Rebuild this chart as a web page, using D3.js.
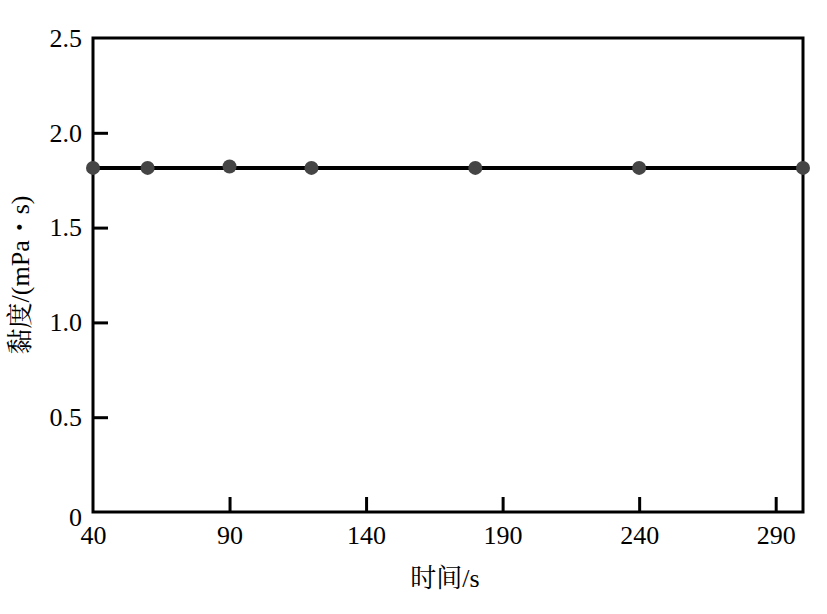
<!DOCTYPE html>
<html>
<head>
<meta charset="utf-8">
<script src="https://cdn.jsdelivr.net/npm/d3@7"></script>
<style>
html,body{margin:0;padding:0;background:#fff;}
svg{display:block;}
</style>
</head>
<body>
<svg id="chart" width="827" height="614"></svg>
<script>
const times = [40, 60, 90, 120, 180, 240, 300];
const viscosity = [1.815, 1.815, 1.822, 1.815, 1.815, 1.815, 1.815];
const fitLine = [[40, 1.815], [300, 1.815]];
const xTicks = [40, 90, 140, 190, 240, 290];
const yTicks = [0, 0.5, 1.0, 1.5, 2.0, 2.5];
const yTickLabels = ["0", "0.5", "1.0", "1.5", "2.0", "2.5"];
const xTitle = "时间/s";
const yTitle = "黏度/(mPa・s)";

const svg = d3.select("#chart");
const m = {left: 93, right: 803, top: 38, bottom: 512};
const x = d3.scaleLinear().domain([40, 300]).range([m.left, m.right]);
const y = d3.scaleLinear().domain([0, 2.5]).range([m.bottom, m.top]);
const serif = "'Liberation Serif','Times New Roman',serif";
const mixed = "'Liberation Serif','Noto Serif CJK SC','Noto Sans CJK SC',serif";

// frame
svg.append("rect").attr("x", m.left).attr("y", m.top)
  .attr("width", m.right - m.left).attr("height", m.bottom - m.top)
  .attr("fill", "none").attr("stroke", "#000").attr("stroke-width", 3);

// x axis
const xAxis = d3.axisBottom(x).tickValues(xTicks).tickSize(-15).tickPadding(13).tickFormat(d3.format("d"));
const gx = svg.append("g").attr("transform", `translate(0,${m.bottom})`).call(xAxis);
gx.select(".domain").remove();
gx.selectAll(".tick line").attr("stroke", "#000").attr("stroke-width", 3);
gx.selectAll(".tick text").attr("font-family", serif).attr("font-size", 26).attr("fill", "#000").attr("dy", "0.72em");
gx.selectAll(".tick").filter(d => d === 40).select("line").remove();

// y axis
const yAxis = d3.axisLeft(y).tickValues(yTicks).tickSize(-15).tickPadding(11)
  .tickFormat((d, i) => yTickLabels[i]);
const gy = svg.append("g").attr("transform", `translate(${m.left},0)`).call(yAxis);
gy.select(".domain").remove();
gy.selectAll(".tick line").attr("stroke", "#000").attr("stroke-width", 3);
gy.selectAll(".tick text").attr("font-family", serif).attr("font-size", 26).attr("fill", "#000");
gy.selectAll(".tick").filter(d => d === 0 || d === 2.5).select("line").remove();
gy.selectAll(".tick").filter(d => d === 0).select("text").attr("dy", "0.5em");

// line
svg.append("path").datum(fitLine)
  .attr("d", d3.line().x(d => x(d[0])).y(d => y(d[1])))
  .attr("fill", "none").attr("stroke", "#000").attr("stroke-width", 4);

// points
svg.append("g").selectAll("circle").data(times).join("circle")
  .attr("cx", d => x(d)).attr("cy", (d, i) => y(viscosity[i]))
  .attr("r", 7).attr("fill", "#454545");

// titles
svg.append("text").attr("x", 445).attr("y", 587)
  .attr("text-anchor", "middle").attr("font-family", mixed).attr("font-size", 26).attr("fill", "#000")
  .text(xTitle);
svg.append("text").attr("transform", `translate(29,${275}) rotate(-90)`)
  .attr("text-anchor", "middle").attr("font-family", mixed).attr("font-size", 26).attr("fill", "#000")
  .text(yTitle);
</script>
</body>
</html>
